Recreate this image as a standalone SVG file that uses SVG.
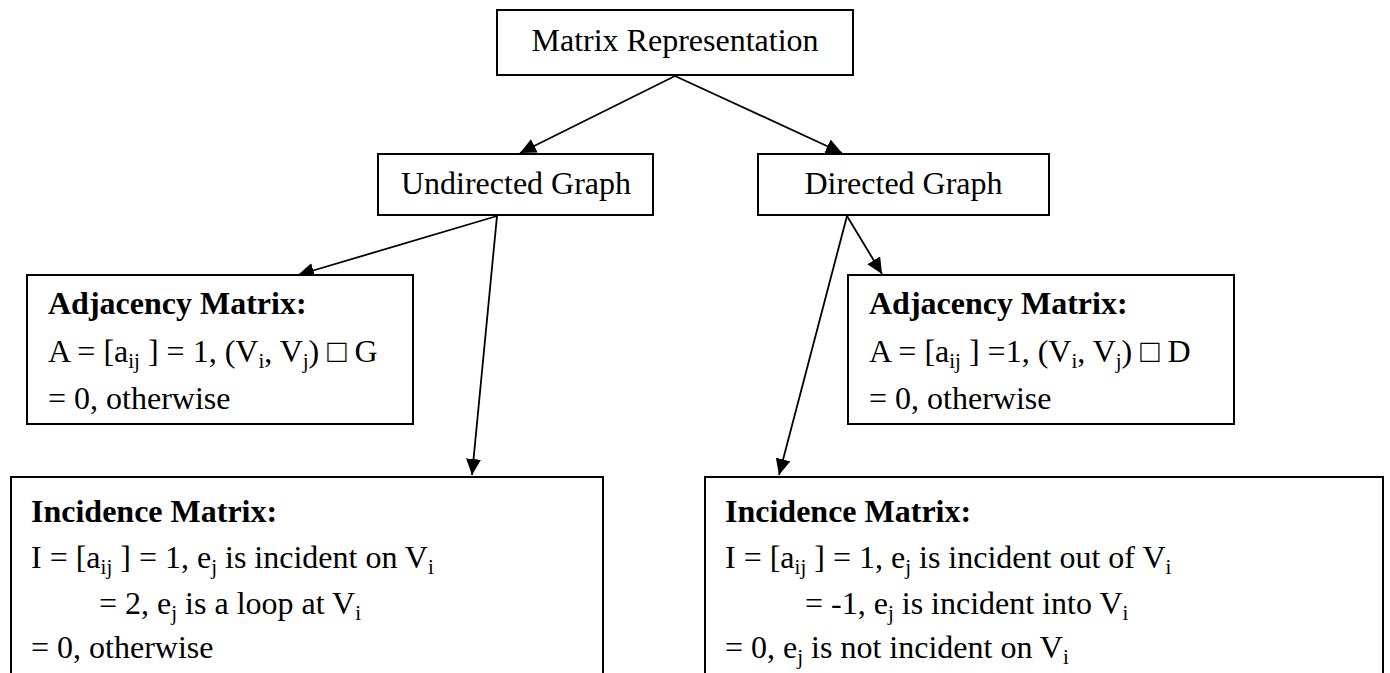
<svg xmlns="http://www.w3.org/2000/svg" width="1390" height="673" viewBox="0 0 1390 673">
<style>
  .box{fill:#fff;stroke:#000;stroke-width:2}
  .t{font-family:"Liberation Serif","Times New Roman",serif;font-size:32px;fill:#000}
  .b{font-weight:bold}
  .c{text-anchor:middle}
  .s{font-size:21px}
  .edge{stroke:#000;stroke-width:1.8;fill:none;marker-end:url(#ah)}
</style>
<defs>
  <marker id="ah" markerUnits="userSpaceOnUse" markerWidth="18" markerHeight="18" refX="16" refY="7.5" orient="auto">
    <path d="M0,0 L16,7.5 L0,15 z" fill="#000"/>
  </marker>
</defs>
<rect width="1390" height="673" fill="#fff"/>
<g id="connectors">
  <line class="edge" x1="675" y1="76" x2="520" y2="153"/>
  <line class="edge" x1="675" y1="76" x2="842" y2="153"/>
  <line class="edge" x1="497" y1="216" x2="298" y2="275"/>
  <line class="edge" x1="497" y1="216" x2="472" y2="475"/>
  <line class="edge" x1="847" y1="216" x2="882" y2="274"/>
  <line class="edge" x1="847" y1="216" x2="779" y2="475"/>
</g>
<g id="matrix-representation">
  <rect class="box" x="497" y="10" width="356" height="65"/>
  <text class="t c" x="675" y="51">Matrix Representation</text>
</g>
<g id="undirected-graph">
  <rect class="box" x="378" y="154" width="275" height="61"/>
  <text class="t c" x="516" y="194">Undirected Graph</text>
</g>
<g id="directed-graph">
  <rect class="box" x="758" y="154" width="291" height="61"/>
  <text class="t c" x="903.5" y="194">Directed Graph</text>
</g>
<g id="undirected-adjacency">
  <rect class="box" x="27" y="275" width="386" height="149"/>
  <text class="t b" x="48" y="314">Adjacency Matrix:</text>
  <text class="t" x="48" y="362">A = [a<tspan class="s" dy="6">ij</tspan><tspan dy="-6"> ] = 1, (V</tspan><tspan class="s" dy="6">i</tspan><tspan dy="-6">, V</tspan><tspan class="s" dy="6">j</tspan><tspan dy="-6">) □ G</tspan></text>
  <text class="t" x="48" y="409">= 0, otherwise</text>
</g>
<g id="directed-adjacency">
  <rect class="box" x="848" y="275" width="386" height="149"/>
  <text class="t b" x="869" y="314">Adjacency Matrix:</text>
  <text class="t" x="869" y="362">A = [a<tspan class="s" dy="6">ij</tspan><tspan dy="-6"> ] =1, (V</tspan><tspan class="s" dy="6">i</tspan><tspan dy="-6">, V</tspan><tspan class="s" dy="6">j</tspan><tspan dy="-6">) □ D</tspan></text>
  <text class="t" x="869" y="409">= 0, otherwise</text>
</g>
<g id="undirected-incidence">
  <rect class="box" x="11" y="477" width="592" height="260"/>
  <text class="t b" x="31" y="522">Incidence Matrix:</text>
  <text class="t" x="31" y="568">I = [a<tspan class="s" dy="6">ij</tspan><tspan dy="-6"> ] = 1, e</tspan><tspan class="s" dy="6">j</tspan><tspan dy="-6"> is incident on V</tspan><tspan class="s" dy="6">i</tspan></text>
  <text class="t" x="99" y="614">= 2, e<tspan class="s" dy="6">j</tspan><tspan dy="-6"> is a loop at V</tspan><tspan class="s" dy="6">i</tspan></text>
  <text class="t" x="31" y="658">= 0, otherwise</text>
</g>
<g id="directed-incidence">
  <rect class="box" x="705" y="477" width="678" height="260"/>
  <text class="t b" x="725" y="522">Incidence Matrix:</text>
  <text class="t" x="725" y="568">I = [a<tspan class="s" dy="6">ij</tspan><tspan dy="-6"> ] = 1, e</tspan><tspan class="s" dy="6">j</tspan><tspan dy="-6"> is incident out of V</tspan><tspan class="s" dy="6">i</tspan></text>
  <text class="t" x="805" y="614">= -1, e<tspan class="s" dy="6">j</tspan><tspan dy="-6"> is incident into V</tspan><tspan class="s" dy="6">i</tspan></text>
  <text class="t" x="725" y="658">= 0, e<tspan class="s" dy="6">j</tspan><tspan dy="-6"> is not incident on V</tspan><tspan class="s" dy="6">i</tspan></text>
</g>
</svg>
